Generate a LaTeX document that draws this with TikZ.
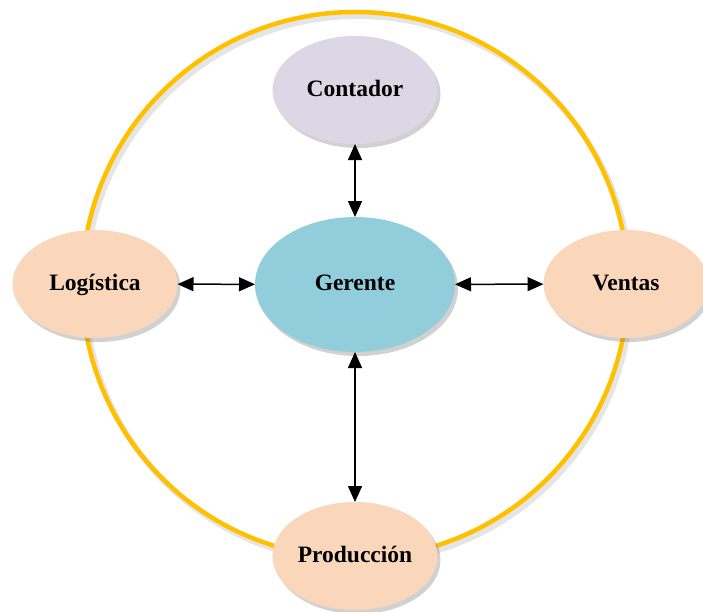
\documentclass[tikz,border=0pt]{standalone}
\usepackage{fontspec}
\setmainfont{Liberation Serif}
\usetikzlibrary{shapes.geometric,arrows.meta,shadows,calc}
\definecolor{ring}{HTML}{FFC000}
\definecolor{lav}{HTML}{DCD7E5}
\definecolor{teal}{HTML}{92CDDC}
\definecolor{peach}{HTML}{FAD7BA}
\tikzset{
  oval/.style={ellipse, inner sep=0pt, outer sep=0pt, minimum width=165pt, minimum height=108pt,
    font=\fontsize{23.5}{26}\selectfont\bfseries, text height=14pt, text depth=2pt,
    drop shadow={shadow xshift=3pt, shadow yshift=-4pt, opacity=0.3, fill=black!60}},
  link/.style={line width=1.5pt, {Triangle[length=16pt,width=14pt]}-{Triangle[length=16pt,width=14pt]}}
}
\begin{document}
\begin{tikzpicture}[x=1pt,y=-1pt]
\useasboundingbox (0,0) rectangle (703,611);
\clip (0,0) rectangle (703,611);
\coordinate (c) at (355,285);
\draw[line width=6pt, black!20, opacity=0.5] ($(c)+(3,4)$) circle[radius=273];
\draw[line width=4.5pt, ring] (c) circle[radius=273];
\node[oval, fill=lav] (cont) at (355,90) {Contador};
\node[oval, fill=teal, minimum width=200pt, minimum height=135pt] (ger) at (355,284.5) {Gerente};
\node[oval, fill=peach] (log) at (95,284) {Logística};
\node[oval, fill=peach] (ven) at (626,284) {Ventas};
\node[oval, fill=peach] (prod) at (355,556) {Producción};
\draw[link] (cont) -- (ger);
\draw[link] (log) -- (ger);
\draw[link] (ger) -- (ven);
\draw[link] (ger) -- (prod);
\end{tikzpicture}
\end{document}
